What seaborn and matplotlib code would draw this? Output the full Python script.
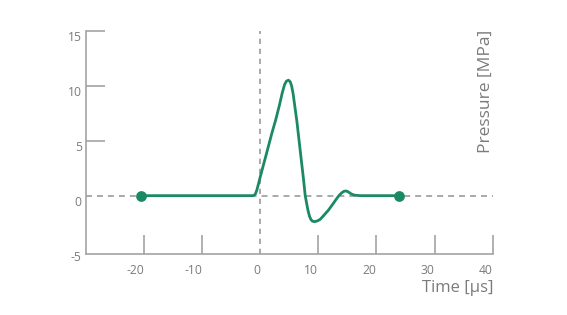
import matplotlib
matplotlib.use("Agg")
import matplotlib.pyplot as plt
import seaborn as sns
import pandas as pd

# ---- data ----
time_us = [-20.5, -5.0, -1.4, -1.1, -0.85, -0.6, -0.3, 0.0, 1.0, 2.0, 2.63, 3.3,
           3.78, 4.18, 4.5, 4.86, 5.15, 5.38, 5.64, 6.31, 7.0, 7.45, 7.73, 8.19,
           8.48, 8.75, 9.0, 9.34, 9.8, 10.31, 11.0, 11.75, 12.5, 13.18, 13.6,
           14.04, 14.4, 14.73, 15.1, 15.47, 15.9, 16.33, 17.2, 23.9]
pressure_mpa = [0.0, 0.0, 0.0, 0.03, 0.15, 0.5, 1.1, 1.73, 3.7, 5.7, 6.85, 8.25,
                9.35, 10.1, 10.42, 10.5, 10.35, 10.0, 9.3, 6.7, 3.5, 1.43, 0.0, -1.3,
                -1.9, -2.2, -2.32, -2.36, -2.3, -2.15, -1.75, -1.3, -0.75, -0.24, 0.05,
                0.27, 0.4, 0.43, 0.36, 0.22, 0.1, 0.04, 0.0, 0.0]
marker_time = [-20.5, 23.9]
marker_pressure = [0.0, 0.0]

x_ticks = [-20, -10, 0, 10, 20, 30, 40]
y_ticks = [-5, 0, 5, 10, 15]
x_limits = (-30, 40)
y_limits = (-5.33, 15)

GREEN = "#1b8a64"
GRAY_TXT = "#7b7b7b"
GRAY_LINE = "#a3a3a3"

sns.set_style("white")
plt.rcParams["font.family"] = ["Open Sans", "DejaVu Sans"]
plt.rcParams["lines.scale_dashes"] = False

fig = plt.figure(figsize=(5.67, 3.15), dpi=100)
ax = fig.add_axes([86 / 567, (315 - 254.3) / 315, (492.7 - 86) / 567, (254.3 - 30.7) / 315])

df = pd.DataFrame({"t": time_us, "p": pressure_mpa})
mk = pd.DataFrame({"t": marker_time, "p": marker_pressure})

# reference dashed lines
ax.axhline(0, color=GRAY_LINE, lw=1.3, ls=(0, (4.3, 3.6)), zorder=1)
ax.axvline(0, color=GRAY_LINE, lw=1.3, ls=(0, (3.8, 3.4)), zorder=1)

sns.lineplot(data=df, x="t", y="p", ax=ax, color=GREEN, lw=2.0, sort=False,
             estimator=None, zorder=3)
sns.scatterplot(data=mk, x="t", y="p", ax=ax, color=GREEN, s=60, linewidth=0, zorder=4)

ax.set_xlim(*x_limits)
ax.set_ylim(*y_limits)
ax.set_xticks(x_ticks)
ax.set_xticklabels([str(v) for v in x_ticks])
ax.set_yticks(y_ticks)
ax.set_yticklabels([str(v) for v in y_ticks])
ax.set_xlabel("")
ax.set_ylabel("")

for s in ["top", "right"]:
    ax.spines[s].set_visible(False)
for s in ["left", "bottom"]:
    ax.spines[s].set_color(GRAY_LINE)
    ax.spines[s].set_linewidth(1.2)

ax.tick_params(axis="x", direction="in", length=14, width=1.2, color=GRAY_LINE,
               labelcolor=GRAY_TXT, labelsize=8.7, pad=7)
ax.tick_params(axis="y", direction="in", length=14, width=1.2, color=GRAY_LINE,
               labelcolor=GRAY_TXT, labelsize=8.7, pad=3)
ax.tick_params(left=True, bottom=True)

# hide tick marks where the dashed line / spine already sits
for tk, v in zip(ax.xaxis.get_major_ticks(), x_ticks):
    if v == 0:
        tk.tick1line.set_visible(False)
for tk, v in zip(ax.yaxis.get_major_ticks(), y_ticks):
    if v in (0, -5):
        tk.tick1line.set_visible(False)

plt.setp(ax.get_xticklabels(), ha="right")
plt.setp(ax.get_yticklabels(), va="top")

fig.text(494 / 567, 1 - 292 / 315, "Time [µs]", ha="right", va="baseline",
         color=GRAY_TXT, fontsize=12)
fig.text(494 / 567, 1 - 30 / 315, "Pressure [MPa]", rotation=90, ha="right",
         va="top", color=GRAY_TXT, fontsize=12.5)

fig.savefig("out.png", dpi=100)
